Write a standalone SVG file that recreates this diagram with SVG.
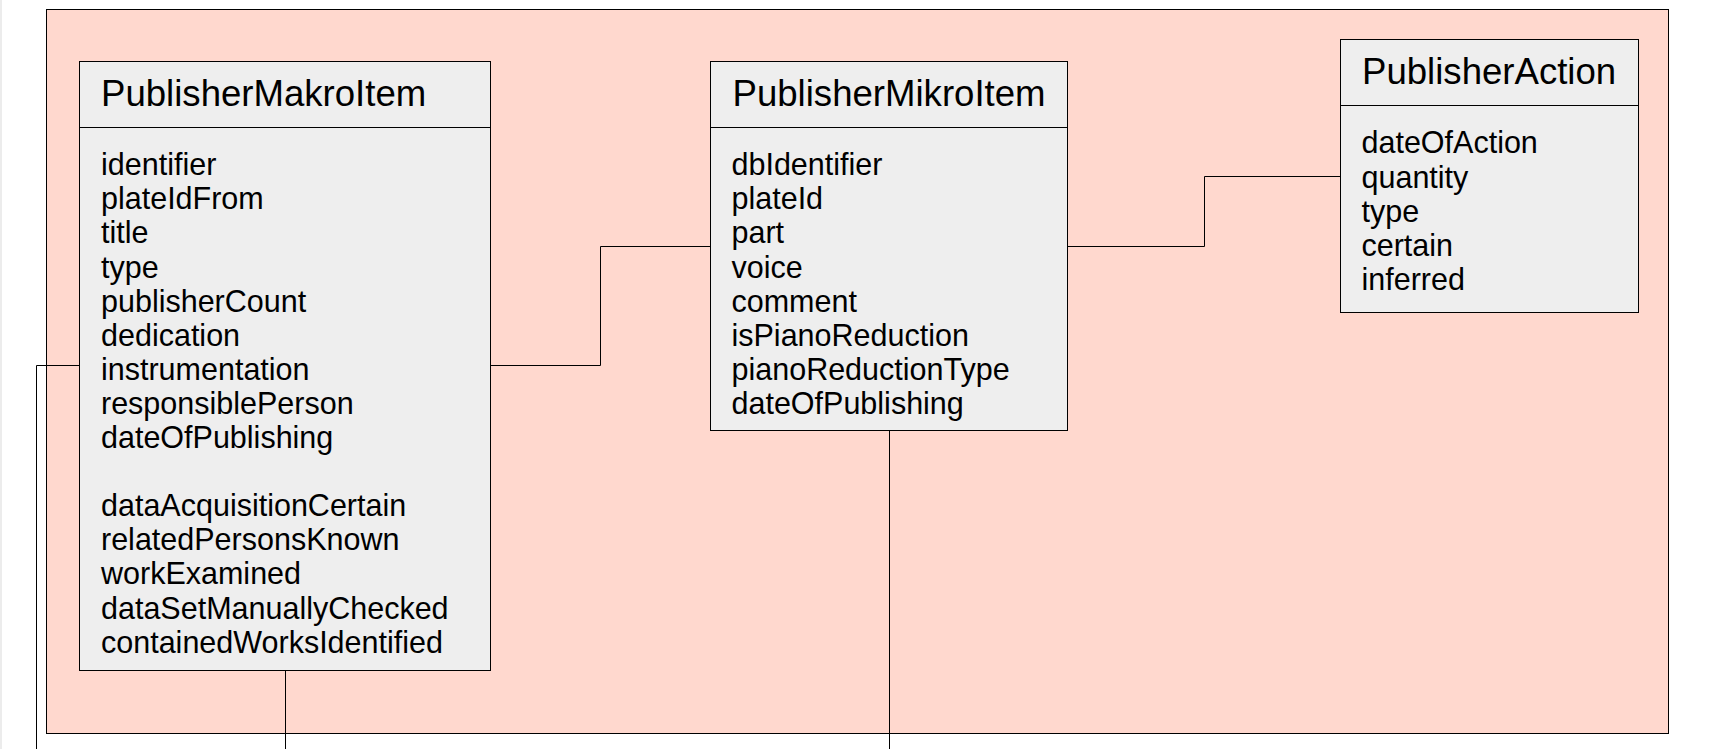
<svg xmlns="http://www.w3.org/2000/svg" width="1711" height="749" viewBox="0 0 1711 749">
<style>
.bg{fill:#ffd8ce;stroke:#000;stroke-width:1}
.box{fill:#eeeeee;stroke:#000;stroke-width:1}
.sep{stroke:#000;stroke-width:1;fill:none}
.title{font-family:"Liberation Sans",Arial,sans-serif;font-size:36.6px;fill:#000}
.attr{font-family:"Liberation Sans",Arial,sans-serif;font-size:30.5px;fill:#000}
.conn{stroke:#000;stroke-width:1;fill:none}
</style>
<rect x="0" y="0" width="1711" height="749" fill="#ffffff"/>
<rect x="0" y="0" width="2" height="749" fill="#ececec"/>
<rect class="bg" x="46.5" y="9.5" width="1622" height="724"/>
<g id="connectors">
<polyline class="conn" points="490.5,365.5 600.5,365.5 600.5,246.5 710.5,246.5"/>
<polyline class="conn" points="1067.5,246.5 1204.5,246.5 1204.5,176.5 1340.5,176.5"/>
<polyline class="conn" points="79.5,365.5 36.5,365.5 36.5,749"/>
<line class="conn" x1="285.5" y1="670.5" x2="285.5" y2="749"/>
<line class="conn" x1="889.5" y1="430.5" x2="889.5" y2="749"/>
</g>
<g id="PublisherMakroItem">
<rect class="box" x="79.5" y="61.5" width="411" height="609"/>
<line class="sep" x1="79.5" y1="127.5" x2="490.5" y2="127.5"/>
<text class="title" x="101" y="106">PublisherMakroItem</text>
<text class="attr"><tspan x="101" y="175.2">identifier</tspan><tspan x="101" y="209.3">plateIdFrom</tspan><tspan x="101" y="243.4">title</tspan><tspan x="101" y="277.5">type</tspan><tspan x="101" y="311.6">publisherCount</tspan><tspan x="101" y="345.7">dedication</tspan><tspan x="101" y="379.8">instrumentation</tspan><tspan x="101" y="413.9">responsiblePerson</tspan><tspan x="101" y="448">dateOfPublishing</tspan><tspan x="101" y="516.2">dataAcquisitionCertain</tspan><tspan x="101" y="550.3">relatedPersonsKnown</tspan><tspan x="101" y="584.4">workExamined</tspan><tspan x="101" y="618.5">dataSetManuallyChecked</tspan><tspan x="101" y="652.6">containedWorksIdentified</tspan></text>
</g>
<g id="PublisherMikroItem">
<rect class="box" x="710.5" y="61.5" width="357" height="369"/>
<line class="sep" x1="710.5" y1="127.5" x2="1067.5" y2="127.5"/>
<text class="title" x="732.5" y="106">PublisherMikroItem</text>
<text class="attr"><tspan x="731.5" y="175.2">dbIdentifier</tspan><tspan x="731.5" y="209.3">plateId</tspan><tspan x="731.5" y="243.4">part</tspan><tspan x="731.5" y="277.5">voice</tspan><tspan x="731.5" y="311.6">comment</tspan><tspan x="731.5" y="345.7">isPianoReduction</tspan><tspan x="731.5" y="379.8">pianoReductionType</tspan><tspan x="731.5" y="413.9">dateOfPublishing</tspan></text>
</g>
<g id="PublisherAction">
<rect class="box" x="1340.5" y="39.5" width="298" height="273"/>
<line class="sep" x1="1340.5" y1="105.5" x2="1638.5" y2="105.5"/>
<text class="title" x="1362" y="84">PublisherAction</text>
<text class="attr"><tspan x="1361.5" y="153.4">dateOfAction</tspan><tspan x="1361.5" y="187.5">quantity</tspan><tspan x="1361.5" y="221.6">type</tspan><tspan x="1361.5" y="255.7">certain</tspan><tspan x="1361.5" y="289.8">inferred</tspan></text>
</g>
</svg>
